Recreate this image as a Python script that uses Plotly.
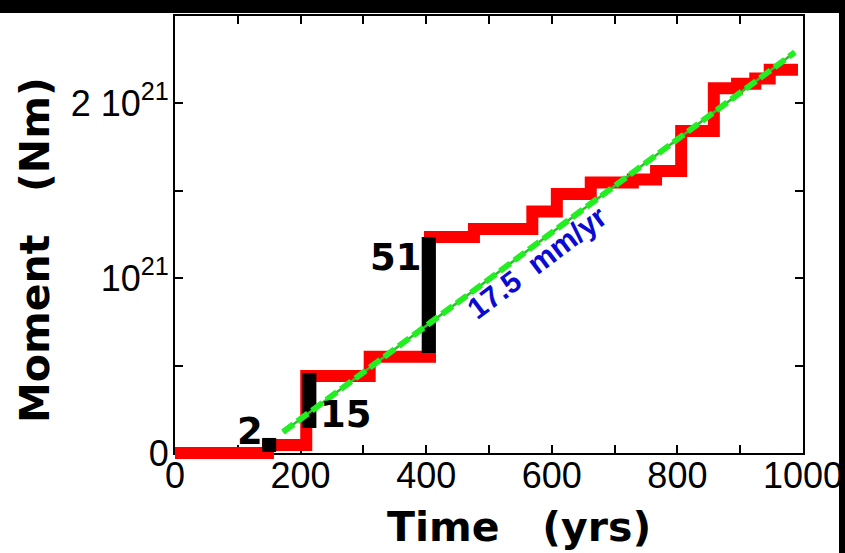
import plotly.graph_objects as go

# ---------------- data ----------------
# red staircase: cumulative moment (units of 1e21 Nm) starting at each time (yrs)
step_time = [0, 148, 209, 310, 406, 476, 569, 608, 662, 729, 766, 806, 858, 895, 924, 947, 992]
step_moment_e21 = [0.0, 0.046, 0.44, 0.55, 1.234, 1.28, 1.38, 1.48, 1.545, 1.563, 1.611,
                   1.84, 2.085, 2.11, 2.14, 2.19, 2.19]

# highlighted jumps (black bars) with their labels
jump_time = [150, 214, 404]
jump_low_e21 = [0.006, 0.143, 0.571]
jump_high_e21 = [0.086, 0.457, 1.234]
jump_label = ["2", "15", "51"]

# 17.5 mm/yr trend line end points
trend_time = [172, 987]
trend_moment_e21 = [0.12, 2.29]
trend_label = "17.5\u00a0\u00a0mm/yr"

x_tickvals = [0, 200, 400, 600, 800, 1000]
x_ticktext = ["0", "200", "400", "600", "800", "1000"]
y_tickvals_e21 = [0, 1.0, 2.0]
y_ticktext = ["0", "10<sup>21</sup>", "2 10<sup>21</sup>"]

x_title = "Time\u00a0\u00a0\u00a0(yrs)"
y_title = "Moment\u00a0\u00a0\u00a0(Nm)"

E21 = 1e21

# ---------------- layout geometry (pixels) ----------------
W, H = 845, 553
ML, MR, MT, MB = 165, 32, 5, 90          # outer drawing area (for unclipped data)
AX_L, AX_R = 175, 803                    # main frame x pixels
AX_T, AX_B = 15.5, 453                   # main frame y pixels (y=2.5e21 / y=0)
PW = W - ML - MR
PH = H - MT - MB
X0, X1 = 0, 1000
Y0, Y1 = 0, 2.5
xs = (AX_R - AX_L) / (X1 - X0)
ys = (AX_B - AX_T) / (Y1 - Y0)


def px2paper_x(px):
    return (px - ML) / PW


def px2paper_y(py):
    return (H - MB - py) / PH


x2_range = [X0 + (ML - AX_L) / xs, X1 + (W - MR - AX_R) / xs]
y2_range = [(Y0 + (AX_B - (H - MB)) / ys) * E21, (Y1 + (AX_T - MT) / ys) * E21]

fig = go.Figure()

# empty trace so that the framed main axes get drawn
fig.add_trace(go.Scatter(x=[None], y=[None], mode="lines", xaxis="x", yaxis="y",
                         showlegend=False, hoverinfo="skip"))

# red staircase
fig.add_trace(go.Scatter(
    x=step_time, y=[v * E21 for v in step_moment_e21], mode="lines",
    line=dict(color="#ff0000", width=12, shape="hv"),
    xaxis="x2", yaxis="y2", showlegend=False, hoverinfo="skip"))

# black jump bars
for t, lo, hi in zip(jump_time, jump_low_e21, jump_high_e21):
    fig.add_trace(go.Scatter(
        x=[t, t], y=[lo * E21, hi * E21], mode="lines",
        line=dict(color="#000000", width=14),
        xaxis="x2", yaxis="y2", showlegend=False, hoverinfo="skip"))

# trend line (thin solid + thick dashed)
fig.add_trace(go.Scatter(
    x=trend_time, y=[v * E21 for v in trend_moment_e21], mode="lines",
    line=dict(color="#2fbf2f", width=2.5),
    xaxis="x2", yaxis="y2", showlegend=False, hoverinfo="skip"))
fig.add_trace(go.Scatter(
    x=trend_time, y=[v * E21 for v in trend_moment_e21], mode="lines",
    line=dict(color="#22ee22", width=6, dash="13px,5px"),
    xaxis="x2", yaxis="y2", showlegend=False, hoverinfo="skip"))

annotations = []
# jump labels
label_style = [
    dict(xanchor="right", xshift=-4, yref_val="high", yshift=6),
    dict(xanchor="left", xshift=9, yref_val="low", yshift=13),
    dict(xanchor="right", xshift=-5, yref_val="high", yshift=-20),
]
for t, lo, hi, lab, st in zip(jump_time, jump_low_e21, jump_high_e21, jump_label, label_style):
    yv = hi if st["yref_val"] == "high" else lo
    annotations.append(dict(
        x=t, y=yv * E21, xref="x2", yref="y2", text=lab, showarrow=False,
        xanchor=st["xanchor"], yanchor="middle", xshift=st["xshift"], yshift=st["yshift"],
        font=dict(family="DejaVu Sans", size=37, color="#000000", weight="bold")))

# trend label
annotations.append(dict(
    x=576, y=1.091 * E21, xref="x2", yref="y2", text="<b>" + trend_label + "</b>",
    showarrow=False, textangle=-37, xanchor="center", yanchor="middle",
    font=dict(family="Liberation Sans", size=30, color="#0a0ad2")))

# axis titles
annotations.append(dict(
    x=px2paper_x(519), y=px2paper_y(527), xref="paper", yref="paper",
    text="<b>" + x_title + "</b>", showarrow=False, xanchor="center", yanchor="middle",
    font=dict(family="DejaVu Sans", size=41, color="#000000")))
annotations.append(dict(
    x=px2paper_x(35), y=px2paper_y(250), xref="paper", yref="paper",
    text="<b>" + y_title + "</b>", showarrow=False, textangle=-90,
    xanchor="center", yanchor="middle",
    font=dict(family="DejaVu Sans", size=41, color="#000000")))

axis_common = dict(
    showline=True, linewidth=2, linecolor="#000000", mirror="allticks",
    ticks="inside", ticklen=8, tickwidth=2, tickcolor="#000000",
    showgrid=False, zeroline=False, automargin=False,
    tickfont=dict(family="Liberation Sans", size=36, color="#000000"),
)

fig.update_layout(
    template="none",
    width=W, height=H, autosize=False,
    margin=dict(l=ML, r=MR, t=MT, b=MB, pad=0, autoexpand=False),
    paper_bgcolor="#ffffff", plot_bgcolor="rgba(0,0,0,0)",
    showlegend=False,
    xaxis=dict(domain=[px2paper_x(AX_L), px2paper_x(AX_R)], range=[X0, X1],
               tickmode="array", tickvals=x_tickvals, ticktext=x_ticktext,
               minor=dict(dtick=100, tick0=0, ticks="inside", ticklen=8, tickwidth=2,
                          tickcolor="#000000", showgrid=False),
               anchor="y", ticklabelstandoff=-10, **axis_common),
    yaxis=dict(domain=[px2paper_y(AX_B), px2paper_y(AX_T)], range=[Y0 * E21, Y1 * E21],
               tickmode="array", tickvals=[v * E21 for v in y_tickvals_e21], ticktext=y_ticktext,
               minor=dict(dtick=0.5 * E21, tick0=0, ticks="inside", ticklen=8, tickwidth=2,
                          tickcolor="#000000", showgrid=False),
               anchor="x", ticklabelstandoff=-3, **axis_common),
    xaxis2=dict(domain=[0, 1], range=x2_range, anchor="y2", visible=False, automargin=False),
    yaxis2=dict(domain=[0, 1], range=y2_range, anchor="x2", visible=False, automargin=False),
    annotations=annotations,
    shapes=[
        dict(type="rect", xref="paper", yref="paper", x0=-1, x1=2,
             y0=px2paper_y(13), y1=px2paper_y(-30), fillcolor="#000000", line=dict(width=0),
             layer="above"),
        dict(type="rect", xref="paper", yref="paper", x0=px2paper_x(839), x1=2,
             y0=-1, y1=2, fillcolor="#000000", line=dict(width=0), layer="above"),
    ],
)

fig.write_html("out.html")
